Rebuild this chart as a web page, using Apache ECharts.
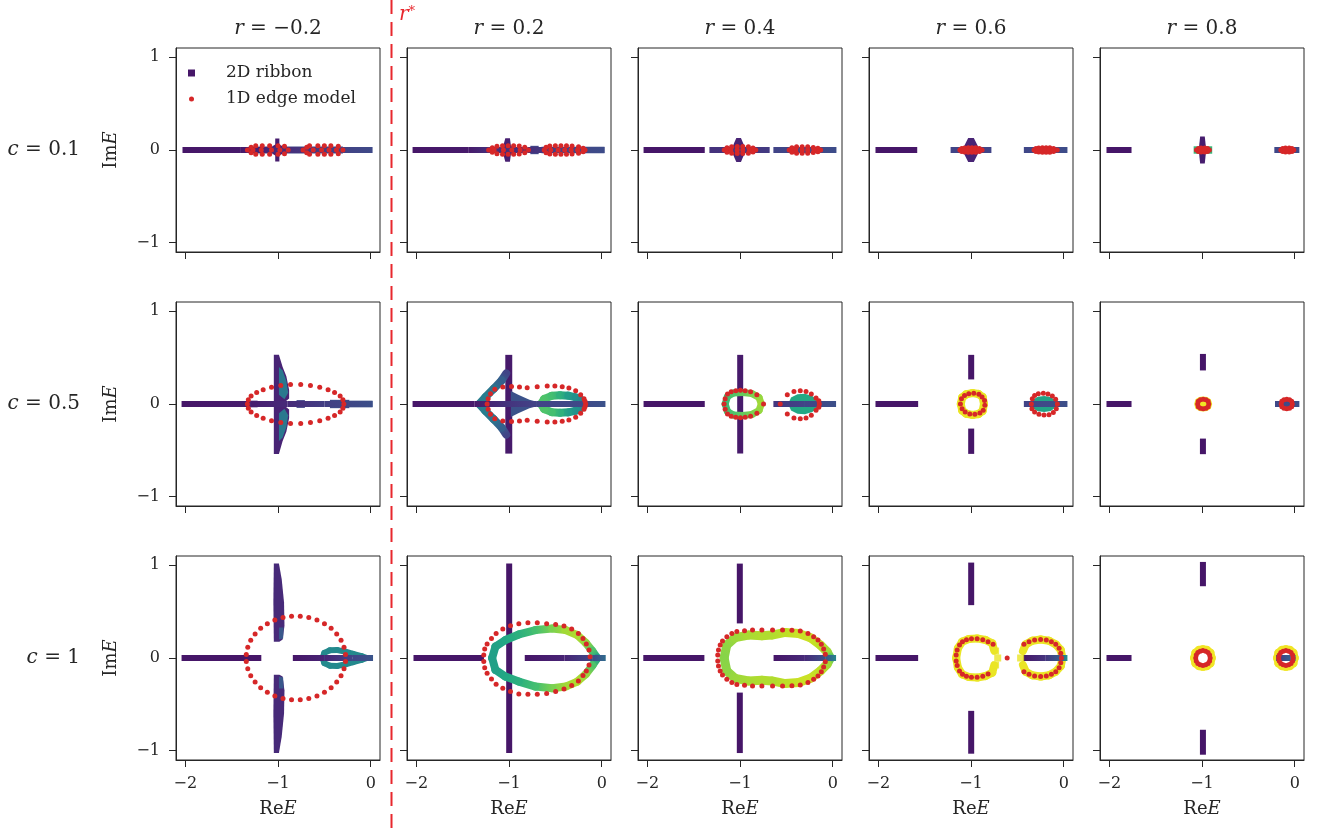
<!DOCTYPE html>
<html><head><meta charset="utf-8">
<script src="https://cdn.jsdelivr.net/npm/echarts@6/dist/echarts.min.js"></script>
<style>html,body{margin:0;padding:0;background:#fff}#c{width:1324px;height:829px}</style>
</head><body><div id="c"></div>
<script>
// ---------- axis ticks & labels ----------
const xTickValues = [-2, -1, 0];
const xTickLabels = ['\u22122', '\u22121', '0'];
const yTickValues = [-1, 0, 1];
const yTickLabels = ['\u22121', '0', '1'];
const rLabels = ['\u22120.2', '0.2', '0.4', '0.6', '0.8'];
const cLabels = ['0.1', '0.5', '1'];
const xRange = [-2.1, 0.1];
const yRange = [-1.1, 1.1];

// ---------- data: [x, y, colourValue] (colour value carried forward when omitted) ----------
// Row c = 0.1
const p11Bands = [[[-2.03,0,0.06],[-1.40,0,0.07],[-1.00,0,0.12],[-0.50,0,0.18],[0.02,0,0.22]]];
const p11Shapes = [
  [[-1.30,0.038,0.21],[-0.30,0.038],[-0.30,-0.038],[-1.30,-0.038]],
  [[-1.03,0.125,0.08],[-0.985,0.125],[-0.985,0.06],[-0.95,0.04],[-0.95,-0.04],[-0.985,-0.06],[-0.985,-0.125],[-1.03,-0.125],[-1.03,-0.06],[-1.06,-0.04],[-1.06,0.04],[-1.03,0.06]]
];
const p11Dots = [[-1.33,0],[-1.29,0.03],[-1.24,0.045],[-1.17,0.047],[-1.09,0.047],[-1.0,0.047],[-0.93,0.04],[-0.89,0],[-0.93,-0.04],[-1.0,-0.047],[-1.09,-0.047],[-1.17,-0.047],[-1.24,-0.045],[-1.29,-0.03],[-1.27,0],[-1.18,0],[-1.07,0],[-0.98,0],
  [-0.73,0],[-0.69,0.03],[-0.66,0.045],[-0.57,0.047],[-0.5,0.047],[-0.43,0.047],[-0.35,0.04],[-0.3,0],[-0.35,-0.04],[-0.43,-0.047],[-0.5,-0.047],[-0.57,-0.047],[-0.66,-0.045],[-0.69,-0.03],[-0.62,0],[-0.53,0],[-0.45,0],[-0.37,0]];

const p12Bands = [[[-2.04,0,0.06],[-1.44,0,0.07],[-1.20,0,0.14],[-0.80,0,0.13],[-0.45,0,0.20],[0.03,0,0.23]]];
const p12Shapes = [
  [[-0.65,0.036,0.22],[0.03,0.036],[0.03,-0.036],[-0.65,-0.036]],
  [[-0.77,0.045,0.2],[-0.68,0.045],[-0.68,-0.045],[-0.77,-0.045]],
  [[-1.04,0.126,0.09],[-0.99,0.126],[-0.98,0.05],[-0.96,0.03],[-0.96,-0.03],[-0.98,-0.05],[-0.99,-0.126],[-1.04,-0.126],[-1.06,-0.05],[-1.08,-0.03],[-1.08,0.03],[-1.06,0.05]]
];
const p12Dots = [[-1.22,0],[-1.18,0.025],[-1.13,0.04],[-1.07,0.046],[-1.01,0.046],[-0.95,0.046],[-0.89,0.044],[-0.83,0.03],[-0.79,0],[-0.83,-0.03],[-0.89,-0.044],[-0.95,-0.046],[-1.01,-0.046],[-1.07,-0.046],[-1.13,-0.04],[-1.18,-0.025],[-1.16,0],[-1.06,0],[-0.97,0],[-0.88,0],
  [-0.62,0],[-0.6,0.03],[-0.56,0.044],[-0.5,0.046],[-0.44,0.046],[-0.38,0.046],[-0.32,0.044],[-0.25,0.035],[-0.2,0.02],[-0.18,0],[-0.2,-0.02],[-0.25,-0.035],[-0.32,-0.044],[-0.38,-0.046],[-0.44,-0.046],[-0.5,-0.046],[-0.56,-0.044],[-0.6,-0.03],[-0.55,0],[-0.47,0],[-0.4,0],[-0.33,0],[-0.26,0]];

const p13Bands = [[[-2.04,0,0.06],[-1.38,0,0.06]],[[-1.33,0,0.14],[-0.68,0,0.17]],[[-0.64,0,0.2],[0.04,0,0.23]]];
const p13Shapes = [
  [[-1.04,0.13,0.1],[-0.99,0.13],[-0.96,0.06],[-0.94,0],[-0.96,-0.06],[-0.99,-0.13],[-1.04,-0.13],[-1.07,-0.06],[-1.09,0],[-1.07,0.06]]
];
const p13Dots = [[-1.17,0],[-1.14,0.025],[-1.09,0.036],[-1.03,0.038],[-0.97,0.038],[-0.91,0.034],[-0.86,0.022],[-0.83,0],[-0.86,-0.022],[-0.91,-0.034],[-0.97,-0.038],[-1.03,-0.038],[-1.09,-0.036],[-1.14,-0.025],[-1.1,0],[-1.03,0],[-0.97,0],[-0.9,0],
  [-0.47,0],[-0.44,0.025],[-0.39,0.034],[-0.33,0.036],[-0.27,0.034],[-0.21,0.028],[-0.16,0.018],[-0.13,0],[-0.16,-0.018],[-0.21,-0.028],[-0.27,-0.034],[-0.33,-0.036],[-0.39,-0.034],[-0.44,-0.025],[-0.4,0],[-0.33,0],[-0.27,0],[-0.2,0]];

const p14Bands = [[[-2.03,0,0.06],[-1.58,0,0.06]],[[-1.22,0,0.2],[-0.78,0,0.2]],[[-0.43,0,0.21],[0.04,0,0.23]]];
const p14Shapes = [
  [[-1.03,0.13,0.1],[-0.97,0.13],[-0.94,0.07],[-0.92,0.03],[-0.92,-0.03],[-0.94,-0.07],[-0.97,-0.13],[-1.03,-0.13],[-1.06,-0.07],[-1.08,-0.03],[-1.08,0.03],[-1.06,0.07]]
];
const p14Dots = [[-1.12,0],[-1.1,0.015],[-1.07,0.022],[-1.03,0.025],[-0.99,0.025],[-0.95,0.023],[-0.91,0.017],[-0.88,0],[-0.91,-0.017],[-0.95,-0.023],[-0.99,-0.025],[-1.03,-0.025],[-1.07,-0.022],[-1.1,-0.015],[-1.08,0],[-1.04,0],[-1.0,0],[-0.96,0],[-0.92,0],
  [-0.32,0],[-0.3,0.015],[-0.27,0.022],[-0.23,0.025],[-0.19,0.025],[-0.15,0.023],[-0.11,0.017],[-0.07,0],[-0.11,-0.017],[-0.15,-0.023],[-0.19,-0.025],[-0.23,-0.025],[-0.27,-0.022],[-0.3,-0.015],[-0.28,0],[-0.24,0],[-0.2,0],[-0.16,0],[-0.12,0]];

const p15Bands = [[[-2.03,0,0.06],[-1.76,0,0.06]],[[-0.22,0,0.21],[0.05,0,0.23]]];
const p15Shapes = [
  [[-1.09,0.04,0.66],[-0.89,0.04],[-0.89,-0.04],[-1.09,-0.04]],
  [[-1.02,0.145,0.08],[-0.97,0.145],[-0.96,0.05],[-0.96,-0.05],[-0.97,-0.145],[-1.02,-0.145],[-1.03,-0.05],[-1.03,0.05]]
];
const p15Dots = [[-1.06,0],[-1.04,0.017],[-1.01,0.022],[-0.97,0.022],[-0.94,0.017],[-0.92,0],[-0.94,-0.017],[-0.97,-0.022],[-1.01,-0.022],[-1.04,-0.017],[-1.02,0],[-0.98,0],
  [-0.15,0],[-0.13,0.017],[-0.1,0.022],[-0.06,0.022],[-0.03,0.017],[-0.01,0],[-0.03,-0.017],[-0.06,-0.022],[-0.1,-0.022],[-0.13,-0.017],[-0.11,0],[-0.07,0],[-0.04,0]];

// Row c = 0.5
const p21Bands = [[[-2.04,0,0.06],[-1.30,0,0.08],[-0.90,0,0.12],[-0.50,0,0.18],[0.02,0,0.24]]];
const p21Shapes = [
  [[-1.30,0.036,0.12],[-1.22,0.036],[-1.22,-0.036],[-1.30,-0.036]],
  [[-0.80,0.042,0.2],[-0.71,0.042],[-0.71,-0.042],[-0.80,-0.042]],
  [[-0.44,0.045,0.22],[-0.23,0.045],[-0.23,-0.045],[-0.44,-0.045]],
  [[-0.23,0.036,0.25],[0.02,0.036],[0.02,-0.036],[-0.23,-0.036]],
  [[-1.045,0.53,0.1],[-0.99,0.53],[-0.95,0.4],[-0.91,0.3],[-0.88,0.15],[-0.88,0.06],[-0.93,0.02],[-0.93,-0.02],[-0.88,-0.06],[-0.88,-0.15],[-0.91,-0.3],[-0.95,-0.4],[-0.99,-0.54],[-1.045,-0.54]],
  [[-0.99,0.4,0.4],[-0.95,0.36],[-0.91,0.25],[-0.89,0.12],[-0.93,0.05],[-0.99,0.1]],
  [[-0.99,-0.4,0.4],[-0.95,-0.36],[-0.91,-0.25],[-0.89,-0.12],[-0.93,-0.05],[-0.99,-0.1]]
];
const p21Dots = [[-0.29,0],[-0.30,0.045],[-0.33,0.085],[-0.39,0.125],[-0.46,0.155],[-0.55,0.18],[-0.65,0.2],[-0.755,0.21],[-0.865,0.21],[-0.97,0.2],[-1.07,0.18],[-1.16,0.155],[-1.23,0.125],[-1.29,0.085],[-1.32,0.045],[-1.33,0],
  [-1.32,-0.045],[-1.29,-0.085],[-1.23,-0.125],[-1.16,-0.155],[-1.07,-0.18],[-0.97,-0.2],[-0.865,-0.21],[-0.755,-0.21],[-0.65,-0.2],[-0.55,-0.18],[-0.46,-0.155],[-0.39,-0.125],[-0.33,-0.085],[-0.30,-0.045]];

const p22Bands = [[[-2.04,0,0.06],[-1.37,0,0.07],[-1.0,0,0.15],[-0.7,0,0.2],[-0.2,0,0.22],[0.04,0,0.25]]];
const p22Shapes = [
  [[-1.04,0.53,0.07],[-0.965,0.53],[-0.965,-0.535],[-1.04,-0.535]],
  [[-0.98,0.14,0.25],[-0.9,0.1],[-0.78,0.045],[-0.7,0.025],[-0.7,-0.025],[-0.78,-0.045],[-0.9,-0.1],[-0.98,-0.14]]
];
const p22Loops = [
  [[-1.03,0.33,0.2],[-1.08,0.254,0.3],[-1.164,0.165,0.38],[-1.254,0.075,0.42],[-1.32,0,0.42]],
  [[-1.03,-0.33,0.2],[-1.08,-0.254,0.3],[-1.164,-0.165,0.38],[-1.254,-0.075,0.42],[-1.32,0,0.42]],
  [[-0.655,0,0.72],[-0.62,0.055,0.72],[-0.54,0.088,0.7],[-0.45,0.095,0.64],[-0.36,0.09,0.55],[-0.28,0.072,0.5],[-0.22,0.04,0.46],[-0.195,0,0.44],[-0.22,-0.04,0.46],[-0.28,-0.072,0.5],[-0.36,-0.09,0.55],[-0.45,-0.095,0.64],[-0.54,-0.088,0.7],[-0.62,-0.055,0.72],[-0.655,0,0.72]]
];
const p22Dots = [[-1.236,0],[-1.225,0.057],[-1.2,0.11],[-1.153,0.158],[-1.067,0.183],[-0.973,0.19],[-0.887,0.183],[-0.804,0.176],[-0.696,0.186],[-0.588,0.194],[-0.505,0.194],[-0.426,0.186],[-0.354,0.172],[-0.281,0.143],[-0.227,0.1],[-0.191,0.057],[-0.173,0],
  [-1.225,-0.057],[-1.2,-0.11],[-1.153,-0.158],[-1.067,-0.183],[-0.973,-0.19],[-0.887,-0.183],[-0.804,-0.176],[-0.696,-0.186],[-0.588,-0.194],[-0.505,-0.194],[-0.426,-0.186],[-0.354,-0.172],[-0.281,-0.143],[-0.227,-0.1],[-0.191,-0.057],[-0.18,0.03],[-0.18,-0.03]];

const p23Vbars = [[[-0.998,0.53,0.07],[-0.998,-0.534,0.07]]];
const p23Shapes = [
  [[-0.48,0,0.6],[-0.45,0.07],[-0.38,0.105],[-0.3,0.11],[-0.22,0.085],[-0.17,0.045],[-0.15,0],[-0.17,-0.045],[-0.22,-0.085],[-0.3,-0.11],[-0.38,-0.105],[-0.45,-0.07]]
];
const p23Loops = [
  [[-1.16,0,0.68],[-1.135,0.08,0.7],[-1.07,0.118,0.72],[-0.97,0.125,0.76],[-0.87,0.112,0.8],[-0.795,0.07,0.84],[-0.77,0,0.86],[-0.795,-0.07,0.84],[-0.87,-0.112,0.8],[-0.97,-0.125,0.76],[-1.07,-0.118,0.72],[-1.135,-0.08,0.7],[-1.16,0,0.68]]
];
const p23Bands = [[[-2.04,0,0.06],[-1.38,0,0.06]],[[-0.64,0,0.16],[-0.3,0,0.2],[0.036,0,0.24]]];
const p23Dots = [[-1.171,0],[-1.16,0.057],[-1.135,0.108],[-1.095,0.133],[-1.045,0.143],[-0.995,0.147],[-0.944,0.143],[-0.886,0.133],[-0.818,0.1],[-0.746,0],
  [-1.16,-0.057],[-1.135,-0.108],[-1.095,-0.133],[-1.045,-0.143],[-0.995,-0.147],[-0.944,-0.143],[-0.886,-0.133],[-0.818,-0.1],
  [-0.566,0],[-0.49,0.1],[-0.418,0.136],[-0.35,0.143],[-0.288,0.136],[-0.231,0.108],[-0.18,0.065],[-0.144,0],[-0.18,-0.068],[-0.231,-0.12],[-0.288,-0.15],[-0.35,-0.158],[-0.418,-0.15],[-0.49,-0.108],[-0.15,0.035],[-0.15,-0.035]];

const p24Vbars = [[[-0.998,0.53,0.06],[-0.998,0.265,0.06]],[[-0.998,-0.265,0.06],[-0.998,-0.538,0.06]]];
const p24Shapes = [
  [[-0.34,0,0.58],[-0.325,0.05],[-0.28,0.078],[-0.21,0.085],[-0.14,0.075],[-0.1,0.045],[-0.086,0],[-0.1,-0.045],[-0.14,-0.075],[-0.21,-0.085],[-0.28,-0.078],[-0.325,-0.05]]
];
const p24Loops = [
  [[-1.11,0,0.97],[-1.095,0.07],[-1.05,0.105],[-0.985,0.118],[-0.92,0.108],[-0.875,0.075],[-0.86,0],[-0.875,-0.075],[-0.92,-0.108],[-0.985,-0.118],[-1.05,-0.105],[-1.095,-0.07],[-1.11,0]]
];
const p24Bands = [[[-2.03,0,0.06],[-1.57,0,0.06]],[[-0.43,0,0.2],[0.04,0,0.24]]];
const p24Dots = [[-1.114,0],[-1.103,0.057],[-1.07,0.093],[-1.024,0.111],[-0.97,0.115],[-0.915,0.104],[-0.881,0.075],[-0.854,0.039],[-0.851,-0.014],[-0.868,-0.068],[-0.904,-0.097],[-0.958,-0.111],[-1.013,-0.108],[-1.063,-0.086],[-1.096,-0.05],
  [-0.349,0],[-0.339,0.057],[-0.314,0.093],[-0.274,0.111],[-0.22,0.115],[-0.17,0.108],[-0.123,0.086],[-0.087,0.05],[-0.069,0],[-0.08,-0.05],[-0.112,-0.093],[-0.159,-0.115],[-0.213,-0.118],[-0.267,-0.111],[-0.314,-0.086],[-0.343,-0.05]];

const p25Vbars = [[[-0.99,0.54,0.06],[-0.99,0.362,0.06]],[[-0.99,-0.373,0.06],[-0.99,-0.541,0.06]]];
const p25Shapes = [
  [[-1.085,0,0.98],[-1.07,0.05],[-1.03,0.075],[-0.99,0.08],[-0.945,0.075],[-0.905,0.05],[-0.89,0],[-0.905,-0.05],[-0.945,-0.075],[-0.99,-0.08],[-1.03,-0.075],[-1.07,-0.05]]
];
const p25Bands = [[[-2.03,0,0.06],[-1.76,0,0.06]],[[-0.213,0,0.22],[0.05,0,0.24]]];
const p25Dots = [[-1.047,0],[-1.04,0.03],[-1.017,0.047],[-0.987,0.052],[-0.957,0.047],[-0.934,0.03],[-0.927,0],[-0.934,-0.03],[-0.957,-0.047],[-0.987,-0.052],[-1.017,-0.047],[-1.04,-0.03],
  [-0.146,0],[-0.139,0.03],[-0.116,0.045],[-0.086,0.05],[-0.056,0.045],[-0.033,0.03],[-0.026,0],[-0.033,-0.03],[-0.056,-0.045],[-0.086,-0.05],[-0.116,-0.045],[-0.139,-0.03]];

// Row c = 1
const p31Shapes = [
  [[-1.045,1.02,0.12],[-0.99,1.02],[-0.96,0.85],[-0.935,0.6],[-0.93,0.35],[-0.95,0.2],[-0.985,0.175],[-1.045,0.175],[-1.05,0.6]],
  [[-1.045,-1.025,0.12],[-0.99,-1.025],[-0.96,-0.85],[-0.935,-0.6],[-0.93,-0.35],[-0.95,-0.2],[-0.985,-0.18],[-1.045,-0.18],[-1.05,-0.6]],
  [[-0.99,0.33,0.27],[-0.94,0.33],[-0.945,0.21],[-0.99,0.2]],
  [[-0.99,-0.33,0.27],[-0.94,-0.33],[-0.945,-0.21],[-0.99,-0.2]]
];
const p31Loops = [
  [[-0.52,0,0.47],[-0.5,0.055],[-0.44,0.083],[-0.36,0.085],[-0.28,0.07],[-0.19,0.045],[-0.1,0.02],[-0.04,0],[-0.1,-0.02],[-0.19,-0.045],[-0.28,-0.07],[-0.36,-0.085],[-0.44,-0.083],[-0.5,-0.055],[-0.52,0]]
];
const p31Bands = [[[-2.04,0,0.06],[-1.18,0,0.06]],[[-0.84,0,0.06],[-0.5,0,0.1],[-0.2,0,0.2],[0.025,0,0.26]]];
const p31Dots = [[-0.272,0.039],[-0.288,0.117],[-0.32,0.191],[-0.367,0.259],[-0.427,0.32],[-0.499,0.37],[-0.58,0.41],[-0.668,0.437],[-0.76,0.45],[-0.854,0.45],[-0.946,0.437],[-1.034,0.41],[-1.115,0.37],[-1.187,0.32],[-1.247,0.259],[-1.294,0.191],[-1.326,0.117],[-1.342,0.039],
  [-0.272,-0.039],[-0.288,-0.117],[-0.32,-0.191],[-0.367,-0.259],[-0.427,-0.32],[-0.499,-0.37],[-0.58,-0.41],[-0.668,-0.437],[-0.76,-0.45],[-0.854,-0.45],[-0.946,-0.437],[-1.034,-0.41],[-1.115,-0.37],[-1.187,-0.32],[-1.247,-0.259],[-1.294,-0.191],[-1.326,-0.117],[-1.342,-0.039]];

const p32Vbars = [[[-0.998,1.018,0.06],[-0.998,-1.025,0.06]]];
const p32Loops = [
  [[-1.182,0,0.56],[-1.146,0.122,0.57],[-1.038,0.194,0.6],[-0.894,0.254,0.63],[-0.714,0.301,0.7],[-0.533,0.319,0.8],[-0.389,0.301,0.86],[-0.263,0.247,0.88],[-0.173,0.165,0.84],[-0.101,0.075,0.72],[-0.047,0,0.55],
   [-0.101,-0.082,0.72],[-0.173,-0.176,0.84],[-0.263,-0.254,0.88],[-0.389,-0.308,0.86],[-0.533,-0.326,0.8],[-0.714,-0.308,0.7],[-0.894,-0.254,0.63],[-1.038,-0.2,0.6],[-1.146,-0.129,0.57],[-1.182,0,0.56]]
];
const p32Bands = [[[-2.03,0,0.06],[-1.27,0,0.06]],[[-0.83,0,0.06],[-0.4,0,0.1],[-0.1,0,0.22],[0.043,0,0.35]]];
const p32Dots = [[-1.272,0.032],[-1.262,0.097],[-1.236,0.151],[-1.189,0.211],[-1.139,0.265],[-1.067,0.312],[-0.984,0.348],[-0.894,0.369],[-0.796,0.38],[-0.695,0.38],[-0.594,0.369],[-0.497,0.362],[-0.407,0.344],[-0.324,0.312],[-0.252,0.265],[-0.202,0.211],[-0.166,0.151],[-0.137,0.086],[-0.126,0.014],
  [-1.272,-0.039],[-1.262,-0.104],[-1.236,-0.165],[-1.189,-0.226],[-1.139,-0.283],[-1.067,-0.326],[-0.984,-0.362],[-0.894,-0.387],[-0.796,-0.391],[-0.695,-0.391],[-0.594,-0.384],[-0.497,-0.362],[-0.407,-0.333],[-0.324,-0.297],[-0.252,-0.247],[-0.202,-0.19],[-0.166,-0.14],[-0.137,-0.075]];

const p33Vbars = [[[-1.002,1.018,0.06],[-1.002,0.373,0.06]],[[-1.002,-0.373,0.06],[-1.002,-1.025,0.06]]];
const p33Loops = [
  [[-1.171,0,0.82],[-1.143,0.14,0.83],[-1.052,0.219,0.85],[-0.908,0.247,0.87],[-0.764,0.24,0.88],[-0.656,0.247,0.88],[-0.511,0.276,0.9],[-0.368,0.265,0.92],[-0.241,0.219,0.92],[-0.133,0.14,0.9],[-0.061,0.068,0.86],[-0.025,0,0.75],
   [-0.061,-0.068,0.86],[-0.133,-0.14,0.9],[-0.241,-0.219,0.92],[-0.368,-0.265,0.92],[-0.511,-0.276,0.9],[-0.656,-0.247,0.88],[-0.764,-0.24,0.88],[-0.908,-0.247,0.87],[-1.052,-0.219,0.85],[-1.143,-0.14,0.83],[-1.171,0,0.82]]
];
const p33Bands = [[[-2.043,0,0.06],[-1.384,0,0.06]],[[-0.638,0,0.06],[-0.3,0,0.12],[-0.08,0,0.25],[0.036,0,0.45]]];
const p33Dots = [[-1.24,0.032],[-1.232,0.086],[-1.214,0.14],[-1.189,0.183],[-1.142,0.229],[-1.088,0.265],[-1.034,0.285],[-0.951,0.295],[-0.865,0.301],[-0.764,0.301],[-0.649,0.301],[-0.541,0.301],[-0.44,0.3],[-0.35,0.29],[-0.267,0.265],[-0.206,0.229],[-0.159,0.194],[-0.123,0.147],[-0.098,0.097],[-0.08,0.04],
  [-1.24,-0.032],[-1.232,-0.086],[-1.214,-0.14],[-1.189,-0.183],[-1.142,-0.229],[-1.088,-0.265],[-1.034,-0.285],[-0.951,-0.295],[-0.865,-0.301],[-0.764,-0.301],[-0.649,-0.301],[-0.541,-0.301],[-0.44,-0.3],[-0.35,-0.29],[-0.267,-0.265],[-0.206,-0.229],[-0.159,-0.194],[-0.123,-0.147],[-0.098,-0.097],[-0.08,-0.04]];

const p34Vbars = [[[-0.998,1.029,0.06],[-0.998,0.57,0.06]],[[-0.998,-0.57,0.06],[-0.998,-1.032,0.06]]];
const p34Loops = [
  [[-0.75,0.08,0.97],[-0.771,0.158],[-0.843,0.194],[-0.934,0.211],[-1.024,0.204],[-1.095,0.176],[-1.141,0.104],[-1.16,0],[-1.141,-0.104],[-1.095,-0.176],[-1.024,-0.204],[-0.934,-0.211],[-0.843,-0.194],[-0.771,-0.158],[-0.75,-0.08]],
  [[-0.44,0.075,0.97],[-0.41,0.147],[-0.339,0.186],[-0.249,0.2],[-0.159,0.186],[-0.086,0.147],[-0.032,0.086],[-0.014,0],[-0.032,-0.086],[-0.086,-0.147],[-0.159,-0.186],[-0.249,-0.2],[-0.339,-0.186],[-0.41,-0.147],[-0.44,-0.075]]
];
const p34Bands = [[[-2.03,0,0.06],[-1.57,0,0.06]],[[-0.44,0,0.06],[-0.2,0,0.15],[-0.03,0,0.3],[0.04,0,0.5]]];
const p34Squares = [[-0.735,0.075,0.97],[-0.712,0,0.97],[-0.735,-0.075,0.97],[-0.465,0,0.97]];
const p34Dots = [[-1.16,0.032],[-1.16,-0.032],[-1.149,0.086],[-1.124,0.14],[-1.092,0.176],[-1.049,0.197],[-0.995,0.208],[-0.934,0.208],[-0.873,0.197],[-0.816,0.176],[-0.762,0.147],
  [-1.149,-0.082],[-1.124,-0.14],[-1.092,-0.176],[-1.049,-0.197],[-0.995,-0.208],[-0.934,-0.208],[-0.873,-0.197],[-0.816,-0.172],[-0.61,0],
  [-0.429,0.147],[-0.374,0.176],[-0.314,0.194],[-0.249,0.2],[-0.188,0.194],[-0.133,0.176],[-0.086,0.147],[-0.05,0.104],[-0.032,0.05],[-0.025,0],
  [-0.429,-0.147],[-0.374,-0.176],[-0.314,-0.194],[-0.249,-0.2],[-0.188,-0.194],[-0.133,-0.176],[-0.086,-0.147],[-0.05,-0.104],[-0.032,-0.05]];

const p35Vbars = [[[-0.99,1.036,0.06],[-0.99,0.774,0.06]],[[-0.99,-0.774,0.06],[-0.99,-1.043,0.06]]];
const p35Loops = [
  [[-1.09,0,0.98],[-1.075,0.06],[-1.035,0.092],[-0.99,0.1],[-0.945,0.092],[-0.905,0.06],[-0.89,0],[-0.905,-0.06],[-0.945,-0.092],[-0.99,-0.1],[-1.035,-0.092],[-1.075,-0.06],[-1.09,0]],
  [[-0.195,0,0.98],[-0.18,0.06],[-0.14,0.092],[-0.095,0.1],[-0.05,0.092],[-0.01,0.06],[0.005,0],[-0.01,-0.06],[-0.05,-0.092],[-0.095,-0.1],[-0.14,-0.092],[-0.18,-0.06],[-0.195,0]]
];
const p35Bands = [[[-2.03,0,0.06],[-1.76,0,0.06]],[[-0.2,0,0.15],[-0.05,0,0.3],[0.01,0,0.5]]];
const p35Dots = [[-1.068,0],[-1.062,0.032],[-1.045,0.058],[-1.02,0.074],[-0.99,0.08],[-0.96,0.074],[-0.935,0.058],[-0.918,0.032],[-0.912,0],[-0.918,-0.032],[-0.935,-0.058],[-0.96,-0.074],[-0.99,-0.08],[-1.02,-0.074],[-1.045,-0.058],[-1.062,-0.032],
  [-0.173,0],[-0.167,0.032],[-0.15,0.058],[-0.125,0.074],[-0.095,0.08],[-0.065,0.074],[-0.04,0.058],[-0.023,0.032],[-0.017,0],[-0.023,-0.032],[-0.04,-0.058],[-0.065,-0.074],[-0.095,-0.08],[-0.125,-0.074],[-0.15,-0.058],[-0.167,-0.032]];

// ---------- assembly ----------
const panels = [
  [{s:p11Shapes,b:p11Bands,d:p11Dots},{s:p12Shapes,b:p12Bands,d:p12Dots},{s:p13Shapes,b:p13Bands,d:p13Dots},{s:p14Shapes,b:p14Bands,d:p14Dots},{s:p15Shapes,b:p15Bands,d:p15Dots}],
  [{s:p21Shapes,b:p21Bands,d:p21Dots},{s:p22Shapes,l:p22Loops,b:p22Bands,d:p22Dots},{v:p23Vbars,s:p23Shapes,l:p23Loops,b:p23Bands,d:p23Dots},{v:p24Vbars,s:p24Shapes,l:p24Loops,b:p24Bands,d:p24Dots},{v:p25Vbars,s:p25Shapes,b:p25Bands,d:p25Dots}],
  [{s:p31Shapes,l:p31Loops,b:p31Bands,d:p31Dots},{v:p32Vbars,l:p32Loops,b:p32Bands,d:p32Dots},{v:p33Vbars,l:p33Loops,b:p33Bands,d:p33Dots},{v:p34Vbars,l:p34Loops,b:p34Bands,q:p34Squares,d:p34Dots},{v:p35Vbars,l:p35Loops,b:p35Bands,d:p35Dots}]
];
// styling (not data)
const loopWidth = [[7,7,7,7,7],[7,8,7,8,8],[6,8,9,8,7]];
const colLeft = [176, 407, 638, 869, 1100];
const rowTop = [48, 302, 556];
const SIZE = 204;
const FONT = "'DejaVu Serif', serif";
const INK = '#262626';
const RED = '#d62728';

const VIRIDIS = ['#440154','#482475','#414487','#355f8d','#2a788e','#21918c','#22a884','#44bf70','#7ad151','#bddf26','#fde725'];
function hx(h){return [parseInt(h.slice(1,3),16),parseInt(h.slice(3,5),16),parseInt(h.slice(5,7),16)];}
function vir(v){ v=Math.max(0,Math.min(1,v)); const f=v*10, i=Math.min(9,Math.floor(f)), t=f-i; const a=hx(VIRIDIS[i]), b=hx(VIRIDIS[i+1]);
  return 'rgb('+a.map((c,k)=>Math.round(c+(b[k]-c)*t)).join(',')+')'; }

function segments(paths){
  const out=[];
  paths.forEach(p=>{ let v=p[0][2]; let prev=null;
    p.forEach(pt=>{ if(pt.length>2) v=pt[2]; const cur=[pt[0],pt[1],v]; if(prev) out.push([prev[0],prev[1],cur[0],cur[1],prev[2],cur[2]]); prev=cur; }); });
  return out;
}
function segSeries(idx, paths, width, cap, z){
  return {type:'custom', xAxisIndex:idx, yAxisIndex:idx, silent:true, z:z, data:segments(paths), encode:{x:[0,2],y:[1,3]},
    renderItem:(params, api)=>{
      const a=api.coord([api.value(0),api.value(1)]), b=api.coord([api.value(2),api.value(3)]);
      const c1=vir(api.value(4)), c2=vir(api.value(5));
      let stroke=c1;
      if(c1!==c2 && Math.abs(a[0]-b[0])+Math.abs(a[1]-b[1])>0.5){
        stroke={type:'linear',x:a[0],y:a[1],x2:b[0],y2:b[1],global:true,colorStops:[{offset:0,color:c1},{offset:1,color:c2}]};
      }
      return {type:'line', shape:{x1:a[0],y1:a[1],x2:b[0],y2:b[1]}, style:{stroke:stroke, lineWidth:width, lineCap:cap, fill:null}};
    }};
}
function shapeSeries(idx, shapes, z){
  return {type:'custom', xAxisIndex:idx, yAxisIndex:idx, silent:true, z:z, data:shapes.map((s,k)=>[s[0][0],s[0][1],k]), encode:{x:0,y:1},
    renderItem:(params, api)=>{ const s=shapes[api.value(2)];
      return {type:'polygon', shape:{points:s.map(p=>api.coord([p[0],p[1]]))}, style:{fill:vir(s[0][2])}}; }};
}

const grids=[], xAxes=[], yAxes=[], series=[];
const nameRich = {n:{fontFamily:FONT,fontSize:18,color:INK}, i:{fontFamily:FONT,fontSize:18,fontStyle:'italic',color:INK}};
panels.forEach((row,r)=>row.forEach((P,c)=>{
  const idx=grids.length;
  grids.push({left:colLeft[c], top:rowTop[r], width:SIZE, height:SIZE, show:true, borderColor:INK, borderWidth:1, backgroundColor:'transparent'});
  xAxes.push({gridIndex:idx, type:'value', min:xRange[0], max:xRange[1], splitLine:{show:false},
    axisLine:{show:true,onZero:false,lineStyle:{color:INK,width:1}},
    axisTick:{show:true,inside:false,length:7,lineStyle:{color:INK,width:1},customValues:xTickValues},
    axisLabel:{show:r===2,customValues:xTickValues,formatter:v=>xTickLabels[xTickValues.indexOf(v)],margin:16,fontFamily:FONT,fontSize:16,color:INK},
    name:r===2?'{n|Re}{i|E}':'', nameLocation:'middle', nameGap:40, nameTextStyle:{rich:nameRich}});
  yAxes.push({gridIndex:idx, type:'value', min:yRange[0], max:yRange[1], splitLine:{show:false},
    axisLine:{show:true,onZero:false,lineStyle:{color:INK,width:1}},
    axisTick:{show:true,inside:false,length:7,lineStyle:{color:INK,width:1},customValues:yTickValues},
    axisLabel:{show:c===0,customValues:yTickValues,formatter:v=>yTickLabels[yTickValues.indexOf(v)],margin:16,fontFamily:FONT,fontSize:16,color:INK},
    name:c===0?'{n|Im}{i|E}':'', nameLocation:'middle', nameGap:56, nameRotate:90, nameTextStyle:{rich:nameRich}});
  if(P.v) series.push(segSeries(idx,P.v,6,'butt',2));
  if(P.s) series.push(shapeSeries(idx,P.s,3));
  if(P.l) series.push(segSeries(idx,P.l,loopWidth[r][c],'round',4));
  if(P.b) series.push(segSeries(idx,P.b,6,'butt',5));
  if(P.q) series.push({type:'scatter', xAxisIndex:idx, yAxisIndex:idx, silent:true, z:6, symbol:'rect', symbolSize:7, data:P.q, itemStyle:{color:p=>vir(p.value[2])}});
  series.push({type:'scatter', name:'1D edge model', xAxisIndex:idx, yAxisIndex:idx, silent:true, z:7, symbol:'circle', symbolSize:5, data:P.d, itemStyle:{color:RED, opacity:1}});
}));

const colCenter = colLeft.map(l=>l+SIZE/2);
const rowCenter = rowTop.map(t=>t+SIZE/2);
const graphics = [];
colCenter.forEach((x,c)=>graphics.push({type:'text', x:x, y:29, silent:true,
  style:{text:'{i|r} = '+rLabels[c], fill:INK, fontFamily:FONT, fontSize:20, align:'center', verticalAlign:'middle', textAlign:'center', textVerticalAlign:'middle',
    rich:{i:{fontFamily:FONT,fontSize:20,fontStyle:'italic',fill:INK}}}}));
rowCenter.forEach((y,r)=>graphics.push({type:'text', x:80, y:y, silent:true,
  style:{text:'{i|c} = '+cLabels[r], fill:INK, fontFamily:FONT, fontSize:20, align:'right', verticalAlign:'middle', textAlign:'right', textVerticalAlign:'middle',
    rich:{i:{fontFamily:FONT,fontSize:20,fontStyle:'italic',fill:INK}}}}));
graphics.push({type:'line', silent:true, shape:{x1:391.5,y1:0,x2:391.5,y2:829}, style:{stroke:'#e8272d', lineWidth:2, lineDash:[14,8]}});
graphics.push({type:'text', x:399, y:15, silent:true,
  style:{text:'{i|r}{s|*}', fill:'#e8272d', fontFamily:FONT, fontSize:20, align:'left', verticalAlign:'middle', textAlign:'left', textVerticalAlign:'middle',
    rich:{i:{fontFamily:FONT,fontSize:20,fontStyle:'italic',fill:'#e8272d'}, s:{fontFamily:FONT,fontSize:13,fill:'#e8272d',verticalAlign:'top'}}}});
// legend
graphics.push({type:'rect', silent:true, shape:{x:188,y:69.5,width:7,height:7}, style:{fill:vir(0.06)}});
graphics.push({type:'circle', silent:true, shape:{cx:191.5,cy:99,r:2.5}, style:{fill:RED}});
graphics.push({type:'text', x:226, y:73, silent:true, style:{text:'2D ribbon', fill:INK, fontFamily:FONT, fontSize:17, align:'left', verticalAlign:'middle', textAlign:'left', textVerticalAlign:'middle'}});
graphics.push({type:'text', x:226, y:99, silent:true, style:{text:'1D edge model', fill:INK, fontFamily:FONT, fontSize:17, align:'left', verticalAlign:'middle', textAlign:'left', textVerticalAlign:'middle'}});

const chart = echarts.init(document.getElementById('c'), null, {renderer:'canvas'});
chart.setOption({animation:false, backgroundColor:'#fff', grid:grids, xAxis:xAxes, yAxis:yAxes, series:series, graphic:graphics});
</script></body></html>
